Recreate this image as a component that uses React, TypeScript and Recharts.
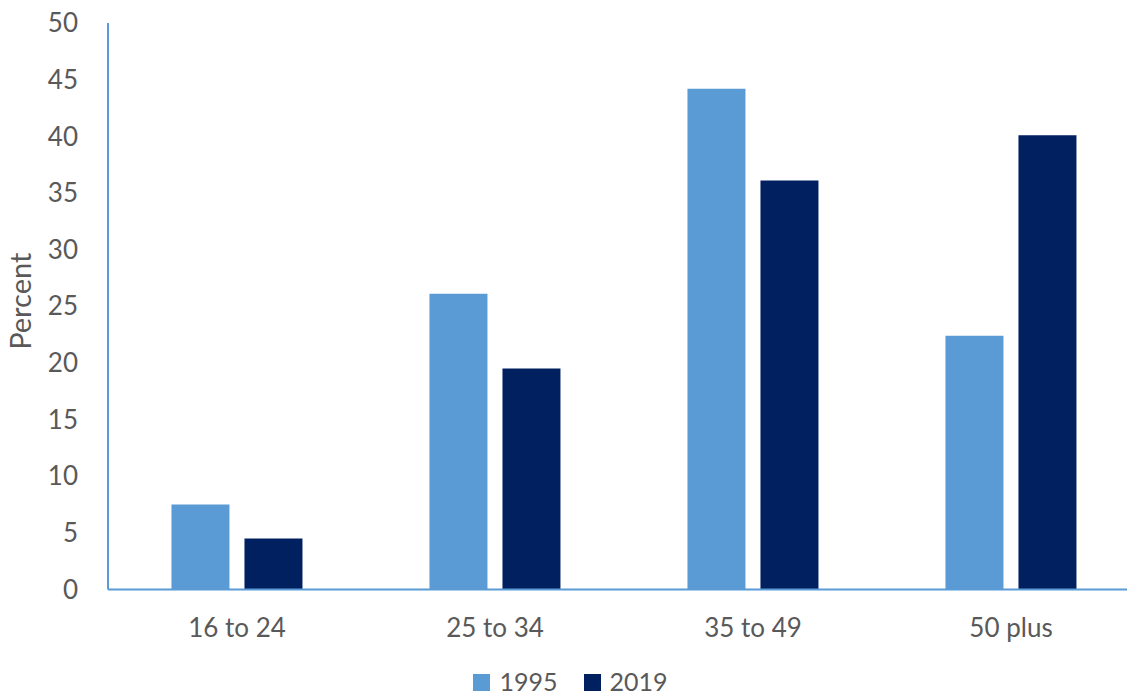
import React from 'react';
import { BarChart, Bar, XAxis, YAxis, Legend } from 'recharts';

const categories = ['16 to 24', '25 to 34', '35 to 49', '50 plus'];
const values1995 = [7.5, 26.1, 44.2, 22.4];
const values2019 = [4.5, 19.5, 36.1, 40.1];
const yTicks = [0, 5, 10, 15, 20, 25, 30, 35, 40, 45, 50];
const seriesNames = ['1995', '2019'];
const seriesColors = ['#5B9BD5', '#002060'];

const data = categories.map((c, i) => ({ name: c, y1995: values1995[i], y2019: values2019[i] }));

const FONT = 'Lato, "Open Sans", sans-serif';
const TEXT = '#595959';
const AXIS = '#5B9BD5';

const LegendContent = () => (
  <div style={{ display: 'flex', justifyContent: 'center', alignItems: 'center', fontFamily: FONT, fontSize: 25, color: TEXT, lineHeight: '22px', height: 22, paddingLeft: 14 }}>
    {seriesNames.map((n, i) => (
      <div key={n} style={{ display: 'flex', alignItems: 'center', marginRight: i === 0 ? 26 : 0 }}>
        <div style={{ width: 17, height: 17, background: seriesColors[i], marginRight: 9, marginTop: 3 }} />
        <span>{n}</span>
      </div>
    ))}
  </div>
);

export default function App() {
  return (
    <div style={{ position: 'absolute', left: 0, top: 0 }}>
      <BarChart
        width={1127}
        height={698}
        data={data}
        margin={{ top: 23, right: -13, bottom: 0, left: 0 }}
        barCategoryGap="24.6%"
        barGap={15}
      >
        <XAxis
          dataKey="name"
          axisLine={{ stroke: AXIS, strokeWidth: 2 }}
          tickLine={false}
          tickSize={6}
          tickMargin={23}
          height={68.5}
          tick={{ fill: TEXT, fontSize: 26, fontFamily: FONT }}
        />
        <YAxis
          domain={[0, 50]}
          ticks={yTicks}
          interval={0}
          width={108}
          axisLine={{ stroke: AXIS, strokeWidth: 2 }}
          tickLine={false}
          tickSize={6}
          tickMargin={24}
          tick={{ fill: TEXT, fontSize: 26, fontFamily: FONT }}
          label={{ value: 'Percent', angle: -90, position: 'center', dx: -33, dy: -5, fill: TEXT, fontSize: 29, fontFamily: FONT }}
        />
        <Legend
          height={40}
          wrapperStyle={{ top: 670, left: 0, width: 1127 }}
          content={<LegendContent />}
        />
        <Bar dataKey="y1995" name="1995" fill={seriesColors[0]} isAnimationActive={false} />
        <Bar dataKey="y2019" name="2019" fill={seriesColors[1]} isAnimationActive={false} />
      </BarChart>
    </div>
  );
}
